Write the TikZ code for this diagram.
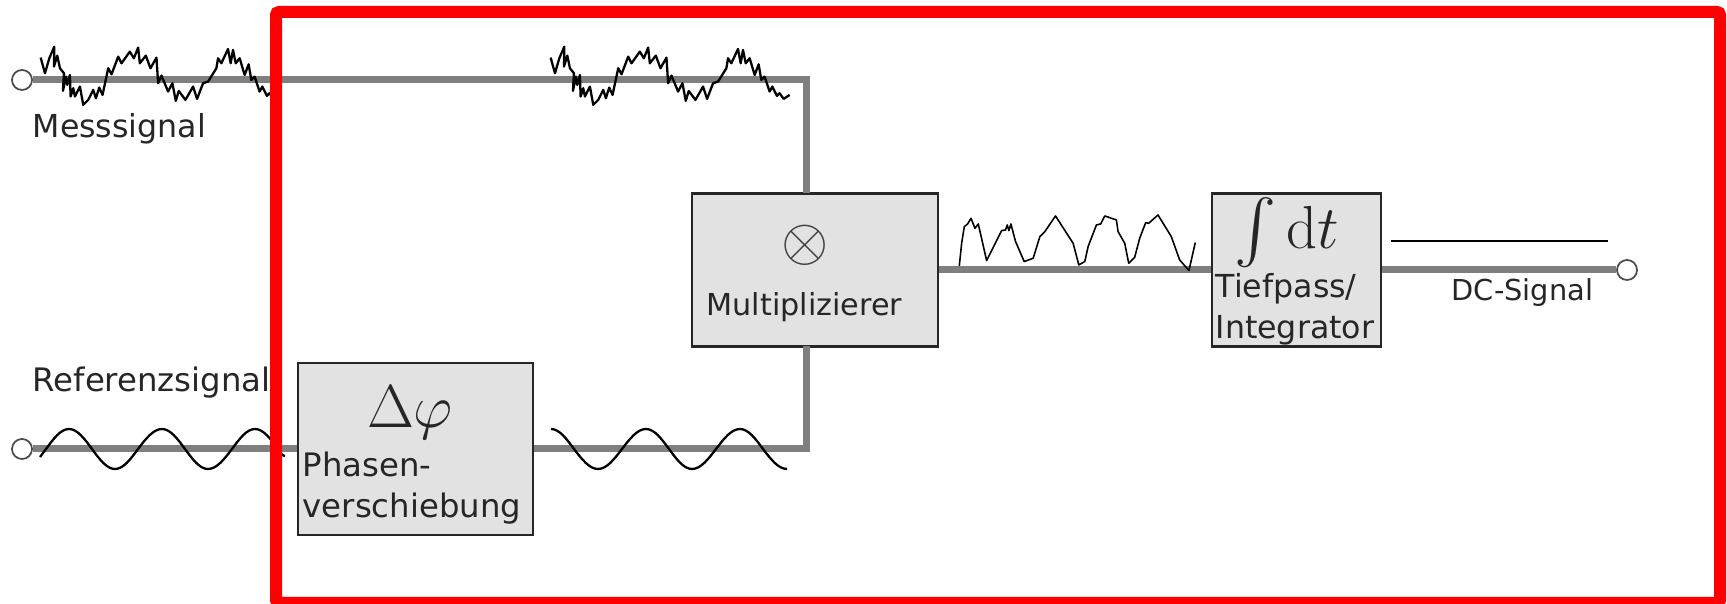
\documentclass[tikz,border=0pt]{standalone}
\usepackage{amsmath}
\usepackage{amssymb}
\usepackage[no-math]{fontspec}
\setmainfont{DejaVu Sans}
\usepackage{tikz}
\usetikzlibrary{positioning}
\definecolor{wiregray}{HTML}{7F7F7F}
\definecolor{boxgray}{HTML}{E2E2E2}
\definecolor{textgray}{HTML}{262626}
\tikzset{wire/.style = {draw = wiregray, line width = 0.07cm}}
\tikzset{port/.style = {draw = black!70, fill = white, circle, inner sep = 0, line width = 0.5pt, minimum size = 0.2cm}}
\tikzset{blockbox/.style = {draw = black!85, fill = boxgray, inner sep = 0, line width = 0.6pt}}
\tikzset{label/.style = {text = textgray, anchor = base west, inner sep = 0, align = left}}
\tikzset{trace/.style = {draw = black, line width = 0.65pt, line join = round}}
\tikzset{fine/.style = {x = 0.00333cm, y = -0.00333cm}}
\newcommand{\noisytrace}{(32, 68) -- (45, 115) -- (58, 70) -- (73, 35) -- (72, 95) -- (82, 62) -- (90, 100)
    -- (102, 115) -- (99, 168) -- (108, 125) -- (112, 150) -- (120, 120) -- (122, 185) -- (130, 160)
    -- (135, 185) -- (150, 155) -- (160, 210) -- (175, 195) -- (190, 165) -- (198, 190) -- (208, 158)
    -- (218, 180) -- (235, 100) -- (245, 118) -- (265, 65) -- (275, 85) -- (300, 50) -- (312, 70)
    -- (325, 38) -- (330, 85) -- (348, 62) -- (362, 100) -- (380, 68) -- (385, 145) -- (395, 122)
    -- (415, 170) -- (428, 145) -- (438, 198) -- (447, 168) -- (467, 195) -- (490, 155) -- (502, 192)
    -- (520, 145) -- (535, 140) -- (560, 100) -- (565, 70) -- (575, 85) -- (595, 42) -- (603, 85)
    -- (610, 45) -- (618, 85) -- (630, 70) -- (645, 120) -- (657, 88) -- (665, 135) -- (675, 125)
    -- (690, 170) -- (698, 155) -- (712, 183) -- (720, 175) -- (732, 192) -- (750, 180)}

\begin{document}
\begin{tikzpicture}[x = 0.01cm, y = -0.01cm]
    \useasboundingbox (0, 0) rectangle (1727, 604);

    \node [port] (messin) at (22, 80) {};
    \node [port] (refin) at (22, 449) {};
    \node [port] (dcout) at (1627, 270) {};

    \node [blockbox, minimum width = 2.35cm, minimum height = 1.72cm] (phase) at (415.5, 449) {};
    \node [blockbox, minimum width = 2.46cm, minimum height = 1.53cm] (mult) at (815, 270) {};
    \node [blockbox, minimum width = 1.69cm, minimum height = 1.53cm] (integ) at (1296.5, 270) {};

    \coordinate (multtop) at (806, 193);
    \coordinate (multbot) at (806, 346);

    \draw [wire] (messin) -| (multtop);
    \draw [wire] (refin) -- (phase);
    \draw [wire] (phase) -| (multbot);
    \draw [wire] (mult) -- (integ);
    \draw [wire] (integ) -- (dcout);

    \begin{scope}[shift = {(30, 35)}, fine]
        \draw [trace] \noisytrace;
    \end{scope}
    \begin{scope}[shift = {(540, 35)}, fine]
        \draw [trace] \noisytrace;
    \end{scope}

    \draw [trace] (40, 457) -- (46, 449) sin (69, 429) cos (92, 449) sin (115, 469) cos (138, 449)
        sin (162, 429) cos (185, 449) sin (208, 469) cos (232, 449) sin (255, 429) cos (278, 449) sin (285, 456);
    \draw [trace] (551, 429) cos (574, 449) sin (598, 469) cos (622, 449) sin (646, 429)
        cos (669, 449) sin (692, 469) cos (716, 449) sin (740, 429) cos (763, 449) sin (787, 469);

    \begin{scope}[shift = {(945, 200)}, fine]
        \draw [trace, line width = 0.45pt] (43, 198) -- (50, 130) -- (58, 80) -- (68, 72) -- (78, 55) -- (90, 85) -- (100, 72)
            -- (125, 182) -- (170, 92) -- (182, 90) -- (187, 75) -- (192, 92) -- (198, 72) -- (212, 125)
            -- (238, 185) -- (265, 175) -- (285, 110) -- (300, 95) -- (332, 48) -- (385, 130) -- (402, 195)
            -- (420, 185) -- (430, 140) -- (455, 75) -- (468, 72) -- (480, 48) -- (515, 60) -- (520, 95)
            -- (540, 130) -- (552, 190) -- (570, 172) -- (585, 115) -- (603, 68) -- (612, 70) -- (640, 45)
            -- (680, 110) -- (705, 180) -- (733, 212) -- (752, 128);
    \end{scope}
    \draw [trace, line width = 0.5pt] (1391, 241) -- (1608, 241);

    \node [label, font = \fontsize{9}{9}\selectfont] (messlabel) at (32, 138) {Messsignal};
    \node [label, font = \fontsize{9.2}{9.2}\selectfont] (reflabel) at (32, 392) {Referenzsignal};
    \node [label, font = \fontsize{9.2}{11.9}\selectfont] (phaselabel) at (302, 518) {Phasen-\\verschiebung};
    \node [label, font = \fontsize{8.6}{8.6}\selectfont] (multlabel) at (706, 316) {Multiplizierer};
    \node [label, font = \fontsize{9}{11.7}\selectfont] (integlabel) at (1215, 339) {Tiefpass/\\Integrator};
    \node [label, font = \fontsize{8.2}{8.2}\selectfont] (dclabel) at (1451, 301) {DC-Signal};

    \node [inner sep = 0, font = \fontsize{19}{19}\selectfont, text = textgray] (phasesym) at (410, 413) {$\Delta\varphi$};
    \node [inner sep = 0, font = \fontsize{18}{18}\selectfont, text = black!75] (multsym) at (805.5, 245) {$\otimes$};
    \node [inner sep = 0, font = \fontsize{18}{18}\selectfont, text = textgray] (integsym) at (1287, 233) {$\int \mathrm{d}t$};

    \draw [red, line width = 0.12cm, rounded corners = 0.03cm] (276, 12) rectangle (1720, 603);
\end{tikzpicture}
\end{document}
